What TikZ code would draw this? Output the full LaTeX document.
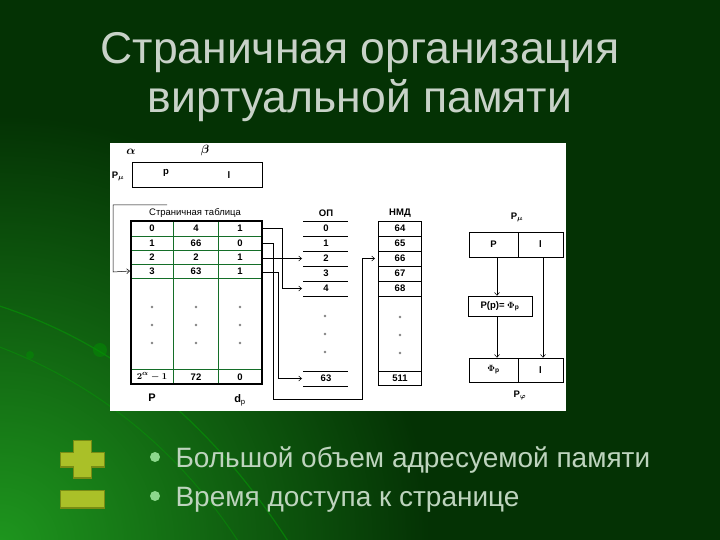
\documentclass[tikz,border=0pt]{standalone}
\usepackage{fontspec}
\setmainfont{Liberation Sans}
\usetikzlibrary{arrows.meta}
\definecolor{bg}{RGB}{4,50,4}
\definecolor{glow}{RGB}{30,150,30}
\definecolor{titlec}{RGB}{200,210,200}
\definecolor{tgreen}{RGB}{20,110,40}
\definecolor{pm}{RGB}{170,192,40}
\definecolor{pmdark}{RGB}{120,140,20}
\definecolor{bulc}{RGB}{140,215,140}
\definecolor{dotc}{RGB}{130,130,130}
\begin{document}
\begin{tikzpicture}[x=1pt,y=-1pt,
  dtxt/.style={font=\fontsize{9.5}{10}\selectfont\bfseries\boldmath, inner sep=0pt},
  stxt/.style={font=\fontsize{9.5}{10}\selectfont, inner sep=0pt},
  arr/.style={-{Straight Barb[length=3pt,width=5pt]}, line width=0.5pt},
  ln/.style={line width=0.5pt},
  vdot/.style={fill=dotc},
  bx/.style={draw, ln, inner sep=0pt, font=\fontsize{9.5}{10}\selectfont\bfseries\boldmath},
  titletxt/.style={font=\fontsize{44.5}{48}\selectfont, text=titlec, anchor=base},
  bultxt/.style={font=\fontsize{28}{30}\selectfont, text=titlec!95!green, anchor=base west}]
\useasboundingbox (0,0) rectangle (720,540);
% background
\fill[bg] (0,0) rectangle (720,540);
\begin{scope}
\clip (0,0) rectangle (720,540);
\shade[inner color=glow, outer color=bg] (0,545) circle (430);
\draw[green!55!bg, opacity=0.5, line width=1.2pt] (-20,300) .. controls (120,340) and (220,430) .. (300,560);
\draw[green!55!bg, opacity=0.4, line width=1pt] (-20,340) .. controls (100,380) and (190,460) .. (250,560);
\fill[green!45!bg, opacity=0.5] (100,350) circle (7);
\fill[green!45!bg, opacity=0.5] (30,355) circle (4);
\end{scope}
% title
\node[titletxt] (t1) at (360,64) {Страничная организация};
\node[titletxt] (t2) at (360,113) {виртуальной памяти};
% white panel
\fill[white] (110,143) rectangle (566,411);
% top address
\node[font=\fontsize{12}{12}\selectfont\boldmath] (alpha) at (131,152) {$\alpha$};
\node[font=\fontsize{12}{12}\selectfont\boldmath] (beta) at (205,151) {$\beta$};
\node[dtxt] (pmu) at (118,176) {$\mathrm{P}_{\mu}$};
\draw[ln] (132,162) rectangle (262,187);
\node[dtxt] (ap) at (166,173) {p};
\node[dtxt] (al) at (229,175) {l};
% page table
\coordinate (lt1) at (167,205);
\coordinate (lt2) at (113,205);
\coordinate (lt3) at (113,272);
\node[stxt] (ptl) at (195,213) {Страничная таблица};
\draw[tgreen, line width=0.6pt] (173,221) -- (173,384) (218,221) -- (218,384);
\foreach \yy in {236,250,264,278,369} \draw[tgreen, line width=0.6pt] (131,\yy) -- (262,\yy);
\draw[line width=1.1pt] (131,221) rectangle (262,384);
\node[dtxt] (r0a) at (152,228.5) {0};
\node[dtxt] (r0b) at (196,228.5) {4};
\node[dtxt] (r0c) at (240,228.5) {1};
\node[dtxt] (r1a) at (152,243) {1};
\node[dtxt] (r1b) at (196,243) {66};
\node[dtxt] (r1c) at (240,243) {0};
\node[dtxt] (r2a) at (152,257) {2};
\node[dtxt] (r2b) at (196,257) {2};
\node[dtxt] (r2c) at (240,257) {1};
\node[dtxt] (r3a) at (152,271) {3};
\node[dtxt] (r3b) at (196,271) {63};
\node[dtxt] (r3c) at (240,271) {1};
\foreach \xx in {152,196,240} \foreach \yy in {307,325,343} \fill[vdot] (\xx,\yy) circle (1.3);
\node[dtxt] (rna) at (152,377) {$2^{\alpha}-1$};
\node[dtxt] (rnb) at (196,377) {72};
\node[dtxt] (rnc) at (240,377) {0};
\node[font=\fontsize{11}{11}\selectfont\bfseries] (lp) at (152,398) {P};
\node[font=\fontsize{11}{11}\selectfont\bfseries] (ldp) at (240,400) {d$_{\mathrm{p}}$};
\draw[ln, arr] (lt1) -- (lt2) -- (lt3) -- (r3a.west -| 130,0);
% OP column
\node[dtxt] (op) at (326,213) {ОП};
\foreach \yy in {221,236,251,266,281,296,371,386} \draw[ln] (303,\yy) -- (348,\yy);
\node[dtxt] (o0) at (326,228.5) {0};
\node[dtxt] (o1) at (326,243.5) {1};
\node[dtxt] (o2) at (326,258.5) {2};
\node[dtxt] (o3) at (326,273.5) {3};
\node[dtxt] (o4) at (326,288.5) {4};
\foreach \yy in {316,334,352} \fill[vdot] (325,\yy) circle (1.3);
\node[dtxt] (o63) at (326,378.5) {63};
% HMD column
\node[dtxt] (hmd) at (400,213) {НМД};
\draw[ln] (378,221) rectangle (421,385);
\foreach \yy in {236,251,266,281,296,371} \draw[ln] (378,\yy) -- (421,\yy);
\node[dtxt] (h64) at (400,228.5) {64};
\node[dtxt] (h65) at (400,243.5) {65};
\node[dtxt] (h66) at (400,258.5) {66};
\node[dtxt] (h67) at (400,273.5) {67};
\node[dtxt] (h68) at (400,288.5) {68};
\foreach \yy in {317,335,353} \fill[vdot] (400,\yy) circle (1.3);
\node[dtxt] (h511) at (400,378.5) {511};
% connectors table -> memory
\coordinate (c0a) at (282,228.5);
\coordinate (c0b) at (282,288.5);
\draw[ln, arr] (262,228.5) -- (c0a) -- (c0b) -- (302,288.5);
\coordinate (c1a) at (273,243);
\coordinate (c1b) at (273,399);
\coordinate (c1c) at (362,399);
\coordinate (c1d) at (362,258.5);
\draw[ln, arr] (262,243) -- (c1a) -- (c1b) -- (c1c) -- (c1d) -- (375,258.5);
\draw[ln, arr] (262,258.5) -- (302,258.5);
\coordinate (c3a) at (278,272);
\coordinate (c3b) at (278,378.5);
\draw[ln, arr] (262,272) -- (c3a) -- (c3b) -- (302,378.5);
% right scheme
\node[dtxt] (rpmu) at (517,217) {$\mathrm{P}_{\mu}$};
\node[bx, minimum width=49pt, minimum height=25pt] (bp) at (493.5,244.5) {P};
\node[bx, minimum width=45pt, minimum height=25pt] (bl) at (540.5,244.5) {l};
\node[bx, minimum width=64pt, minimum height=20pt] (bf) at (500,306) {P(p)= $\Phi_{\mathrm{p}}$};
\node[bx, minimum width=49pt, minimum height=24pt] (cp) at (493.5,370) {$\Phi_{\mathrm{p}}$};
\node[bx, minimum width=45pt, minimum height=24pt] (cl) at (540.5,370) {l};
\node[dtxt] (rpf) at (520,395) {$\mathrm{P}_{\varphi}$};
\draw[ln, arr] (bp.south -| 497,0) -- (bf.north -| 497,0);
\draw[ln, arr] (bf.south -| 497,0) -- (cp.north -| 497,0);
\draw[ln, arr] (bl.south -| 543,0) -- (cl.north -| 543,0);
% plus / minus
\fill[pmdark] (73,440) rectangle (92,479);
\fill[pmdark] (60,452) rectangle (105,468);
\fill[pm] (74,441) rectangle (91,477);
\fill[pm] (61,453) rectangle (104,466);
\fill[pmdark] (60,490) rectangle (105,509);
\fill[pm] (61,491) rectangle (104,507);
% bullets
\fill[bulc] (155,457) circle (5) node[coordinate] (b1) {};
\fill[bulc] (155,496) circle (5) node[coordinate] (b2) {};
\node[bultxt] (bt1) at (172,467) {Большой объем адресуемой памяти};
\node[bultxt] (bt2) at (172,506) {Время доступа к странице};
\end{tikzpicture}
\end{document}
